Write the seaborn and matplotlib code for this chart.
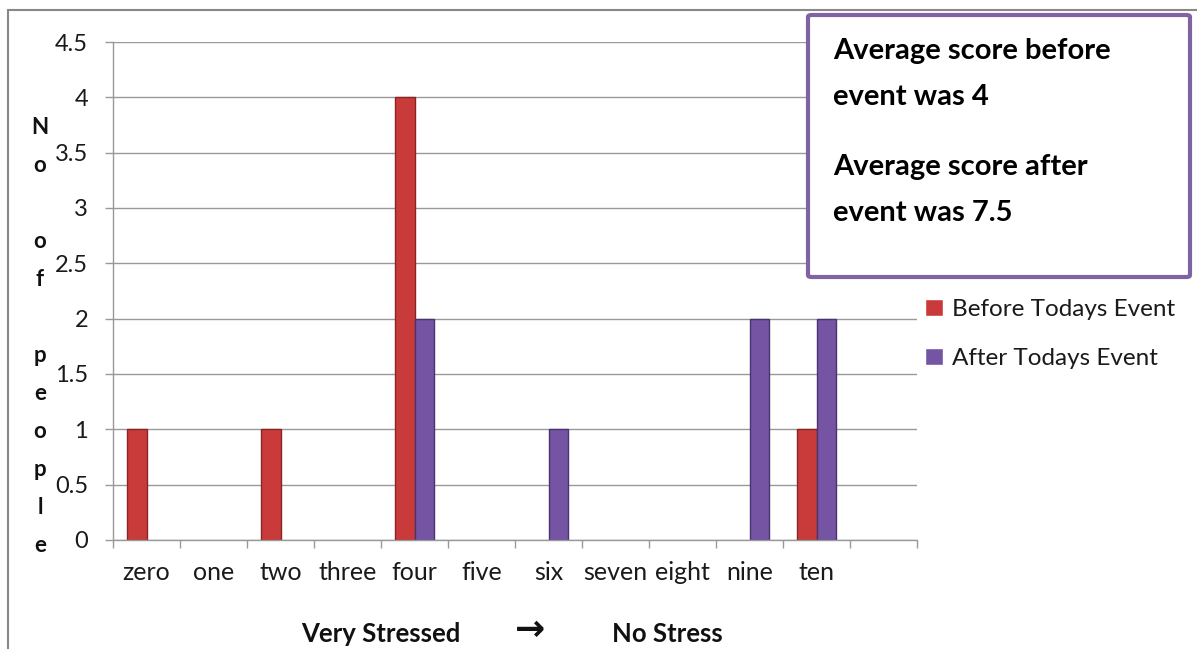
import matplotlib
matplotlib.use("Agg")
import matplotlib.pyplot as plt
import matplotlib.patches as mpatches
import seaborn as sns
import pandas as pd
import numpy as np

categories = ["zero", "one", "two", "three", "four", "five", "six", "seven", "eight", "nine", "ten"]
before = [1, 0, 1, 0, 4, 0, 0, 0, 0, 0, 1]
after = [0, 0, 0, 0, 2, 0, 1, 0, 0, 2, 2]
series = ["Before Todays Event", "After Todays Event"]
yticks = [0, 0.5, 1, 1.5, 2, 2.5, 3, 3.5, 4, 4.5]
ytick_labels = ["0", "0.5", "1", "1.5", "2", "2.5", "3", "3.5", "4", "4.5"]
note_lines = ["Average score before\nevent was 4", "Average score after\nevent was 7.5"]
ylabel_text = "No of people"

sns.set_theme(style="white")
plt.rcParams['font.family'] = ['Lato', 'DejaVu Sans']

df = pd.DataFrame({
    "category": categories * 2,
    "value": before + after,
    "series": [series[0]] * len(categories) + [series[1]] * len(categories),
})

fig = plt.figure(figsize=(11.97, 6.49), dpi=100)
ax = fig.add_axes([113 / 1197, 1 - 540 / 649, (917 - 113) / 1197, (540 - 42) / 649])

red = "#C93B3B"
purple = "#7554A3"
sns.barplot(data=df, x="category", y="value", hue="series", order=categories,
            hue_order=series, palette=[red, purple], width=0.57, gap=0,
            ax=ax, saturation=1, legend=True)

for container, ec in zip(ax.containers, ["#8A2424", "#4A3470"]):
    for bar in container:
        if bar.get_height() > 0:
            bar.set_edgecolor(ec)
            bar.set_linewidth(1.0)
        else:
            bar.set_visible(False)

ax.set_xlim(-0.5, 11.5)
ax.set_ylim(0, 4.5)
ax.set_yticks(yticks)
ax.set_yticklabels(ytick_labels)
ax.grid(axis="y", color="#999999", linewidth=1)
ax.set_axisbelow(True)
ax.set_xlabel("")
ax.set_ylabel("")

for s in ["top", "right"]:
    ax.spines[s].set_visible(False)
for s in ["left", "bottom"]:
    ax.spines[s].set_color("#999999")
    ax.spines[s].set_linewidth(1)

ax.set_xticks(np.arange(len(categories)))
ax.set_xticklabels(categories)
ax.set_xticks(np.arange(-0.5, 12.0, 1.0), minor=True)
ax.tick_params(axis="x", which="major", length=0, pad=15, labelsize=18, labelcolor="#1a1a1a")
ax.tick_params(axis="x", which="minor", length=6, width=1, color="#999999", direction="out", bottom=True)
ax.tick_params(axis="y", which="major", length=6, width=1, color="#999999", direction="out",
               left=True, pad=12, labelsize=17, labelcolor="#1a1a1a")

leg = ax.legend(loc="center left", bbox_to_anchor=(913 / 1197, 1 - 334 / 649),
                bbox_transform=fig.transFigure, frameon=False, fontsize=17.5,
                handlelength=0.75, handleheight=0.65, handletextpad=0.35, labelspacing=1.15,
                borderpad=0)
for t in leg.get_texts():
    t.set_color("#1a1a1a")

# vertical stacked y-label, one character per line
ylab_pos = np.linspace(128, 546, len(ylabel_text))
for ch, ypx in zip(ylabel_text, ylab_pos):
    if ch.strip():
        fig.text(40 / 1197, 1 - ypx / 649, ch, ha="center", va="center",
                 fontsize=16, fontweight="bold", color="#111111")

# x axis title
fig.text(381 / 1197, 1 - 634 / 649, "Very Stressed", ha="center", va="center", fontsize=18.5,
         fontweight="bold", color="#111111")
fig.text(530 / 1197, 1 - 630 / 649, "→", ha="center", va="center", fontsize=26, fontweight="bold",
         family=["DejaVu Sans"], color="#111111")
fig.text(667 / 1197, 1 - 634 / 649, "No Stress", ha="center", va="center", fontsize=18.5,
         fontweight="bold", color="#111111")

# outer chart border
fig.patches.append(mpatches.Rectangle((8 / 1197, -0.1), 1.2, 1 - 10 / 649 + 0.1,
                                      transform=fig.transFigure, fill=False,
                                      edgecolor="#888888", linewidth=1.5, zorder=0))

# annotation box
fig.patches.append(mpatches.FancyBboxPatch((808 / 1197, 1 - 277 / 649), (1190 - 808) / 1197, (277 - 15) / 649,
                                           boxstyle="round,pad=0,rounding_size=0.003",
                                           transform=fig.transFigure, facecolor="white",
                                           edgecolor="#8064A2", linewidth=3, zorder=5))
fig.text(833 / 1197, 1 - 74 / 649, note_lines[0], ha="left", va="center", fontsize=21,
         fontweight="bold", linespacing=1.95, zorder=6, color="#000000")
fig.text(833 / 1197, 1 - 190 / 649, note_lines[1], ha="left", va="center", fontsize=21,
         fontweight="bold", linespacing=1.95, zorder=6, color="#000000")

fig.savefig("out.png", dpi=100)
